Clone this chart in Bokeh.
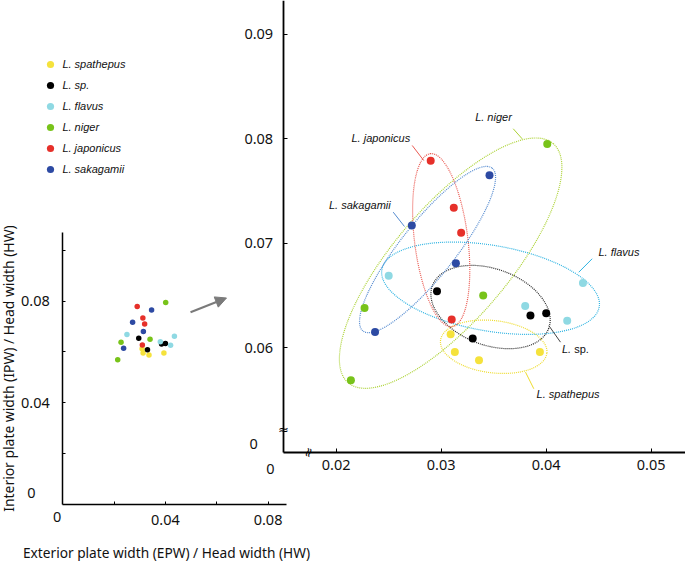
from bokeh.plotting import figure
from bokeh.models import (Range1d, LinearAxis, FixedTicker, Legend, LegendItem,
                          Arrow, NormalHead)
from bokeh.core.properties import value
from bokeh.embed import file_html
from bokeh.resources import INLINE

# ---------------- data ----------------
species = ["L. spathepus", "L. sp.", "L. flavus", "L. niger", "L. japonicus", "L. sakagamii"]

spathepus_epw = [0.0309, 0.0313, 0.0336, 0.0394]
spathepus_ipw = [0.0613, 0.0596, 0.0588, 0.0596]
sp_epw = [0.0296, 0.0385, 0.0400, 0.0330]
sp_ipw = [0.0654, 0.0631, 0.0633, 0.0609]
flavus_epw = [0.0250, 0.0435, 0.0380, 0.0420]
flavus_ipw = [0.0669, 0.0662, 0.0640, 0.0626]
niger_epw = [0.0401, 0.0340, 0.0227, 0.0214]
niger_ipw = [0.0795, 0.0650, 0.0638, 0.0569]
japonicus_epw = [0.0290, 0.0312, 0.0319, 0.0310]
japonicus_ipw = [0.0779, 0.0734, 0.0710, 0.0627]
sakagamii_epw = [0.0346, 0.0272, 0.0314, 0.0237]
sakagamii_ipw = [0.0765, 0.0717, 0.0681, 0.0615]

epw = [spathepus_epw, sp_epw, flavus_epw, niger_epw, japonicus_epw, sakagamii_epw]
ipw = [spathepus_ipw, sp_ipw, flavus_ipw, niger_ipw, japonicus_ipw, sakagamii_ipw]

# 95% ellipses (centre, axes, angle) per species
ell_x = [0.0350, 0.0347, 0.0347, 0.0309, 0.0300, 0.0287]
ell_y = [0.0601, 0.0639, 0.0657, 0.0681, 0.0703, 0.0694]
ell_w = [0.0102, 0.0118, 0.0210, 0.0300, 0.0166, 0.0198]
ell_h = [0.0050, 0.0073, 0.0082, 0.0109, 0.0051, 0.0052]
ell_angle = [-0.12, -0.35, -0.17, 0.862, 1.696, 0.90]

main_x_ticks = [0.02, 0.03, 0.04, 0.05]
main_y_ticks = [0.06, 0.07, 0.08, 0.09]
inset_x_ticks = [0.02, 0.04, 0.06, 0.08]
inset_y_ticks = [0.02, 0.04, 0.06, 0.08, 0.10]
inset_labelled = [0.04, 0.08]

# ---------------- styles ----------------
point_colors = ["#f5e23c", "#000000", "#8fd9e3", "#78c31a", "#e6302a", "#2d4aa3"]
ell_colors = ["#eedc2e", "#2a2a2a", "#30b4e2", "#acd235", "#ea5a52", "#558bd0"]
leader_colors = ["#eedc2e", "#444444", "#30b4e2", "#acd235", "#ea5a52", "#558bd0"]

# label annotations in main-plot data space
lab_x = [0.04208, 0.04279, 0.04693, 0.03498, 0.02425, 0.02225]
lab_y = [0.05560, 0.05990, 0.06915, 0.08212, 0.08010, 0.07371]
lead_x0 = [0.03882, 0.04136, 0.04438, 0.03686, 0.02724, 0.02543]
lead_y0 = [0.05608, 0.06054, 0.06852, 0.08096, 0.07936, 0.07298]
lead_x1 = [0.03803, 0.04025, 0.04310, 0.03772, 0.02834, 0.02650]
lead_y1 = [0.05767, 0.06213, 0.06723, 0.07999, 0.07792, 0.07161]

TICK_FONT = "Noto Sans"
LAB_FONT = "Liberation Sans"

p = figure(width=685, height=561, output_backend="svg", toolbar_location=None,
           x_range=Range1d(-0.011971, 0.053267), y_range=Range1d(0.039550, 0.093234),
           x_axis_location=None, y_axis_location=None, min_border=0,
           outline_line_color=None, background_fill_color="white")
p.grid.visible = False
p.extra_x_ranges = {"ix": Range1d(-0.024279, 0.242673)}
p.extra_y_ranges = {"iy": Range1d(-0.022423, 0.198269)}


def style_axis(ax, width, size, standoff):
    ax.axis_line_width = width
    ax.axis_line_color = "black"
    ax.major_tick_in = 4
    ax.major_tick_out = 0
    ax.major_tick_line_width = 1
    ax.minor_tick_in = 0
    ax.minor_tick_out = 0
    ax.major_label_text_font = TICK_FONT
    ax.major_label_text_font_size = size
    ax.major_label_text_color = "#111111"
    ax.major_label_standoff = standoff


# main axes
may = LinearAxis(fixed_location=0.01495, bounds=(0.05, 0.0935),
                 ticker=FixedTicker(ticks=main_y_ticks))
style_axis(may, 1.8, "14.5px", 10)
p.add_layout(may, "left")
max_ = LinearAxis(fixed_location=0.05, bounds=(0.01495, 0.0533),
                  ticker=FixedTicker(ticks=main_x_ticks))
style_axis(max_, 1.8, "14.5px", 8)
p.add_layout(max_, "below")

# inset axes
overr_y = {t: "" for t in inset_y_ticks if t not in inset_labelled}
overr_x = {t: "" for t in inset_x_ticks if t not in inset_labelled}
iay = LinearAxis(fixed_location=0, bounds=(0, 0.1071), x_range_name="ix", y_range_name="iy",
                 ticker=FixedTicker(ticks=inset_y_ticks), major_label_overrides=overr_y)
style_axis(iay, 1.5, "14.5px", 13)
iay.major_tick_in = 3
p.add_layout(iay, "left")
iax = LinearAxis(fixed_location=0, bounds=(0, 0.0872), x_range_name="ix", y_range_name="iy",
                 ticker=FixedTicker(ticks=inset_x_ticks), major_label_overrides=overr_x)
style_axis(iax, 1.5, "14.5px", 10)
iax.major_tick_in = 3
p.add_layout(iax, "below")

# ellipses
p.ellipse(x=ell_x, y=ell_y, width=ell_w, height=ell_h, angle=ell_angle,
          fill_color=None, line_color=ell_colors, line_width=1.2, line_dash="1 1")

# leader lines
p.segment(x0=lead_x0, y0=lead_y0, x1=lead_x1, y1=lead_y1, line_color=leader_colors, line_width=1)

# species labels ("L. sp." has an upright "sp.")
italic_idx = [i for i, s in enumerate(species) if s != "L. sp."]
p.text(x=[lab_x[i] for i in italic_idx], y=[lab_y[i] for i in italic_idx],
       text=[species[i] for i in italic_idx], text_font=value(LAB_FONT),
       text_font_style="italic", text_font_size="11px", text_align="center",
       text_baseline="middle", text_color="#111111")
sp_i = species.index("L. sp.")
p.text(x=[lab_x[sp_i]], y=[lab_y[sp_i]], text=["L. "], text_font=value(LAB_FONT),
       text_font_style="italic", text_font_size="11px", text_align="right",
       text_baseline="middle", text_color="#111111", x_offset=-1.3)
p.text(x=[lab_x[sp_i]], y=[lab_y[sp_i]], text=["sp."], text_font=value(LAB_FONT),
       text_font_size="11px", text_align="left",
       text_baseline="middle", text_color="#111111", x_offset=-1.3)

# points
renderers = []
for s, xs, ys, c in zip(species, epw, ipw, point_colors):
    r = p.scatter(x=xs, y=ys, size=8, fill_color=c, line_color=None)
    renderers.append(r)
    p.scatter(x=xs, y=ys, size=5.5, fill_color=c, line_color=None,
              x_range_name="ix", y_range_name="iy")

# axis-break marks and zero labels (main)
p.text(x=[0.01498], y=[0.05218], text=["≈"], text_font=value("DejaVu Sans"),
       text_font_size="13px", text_align="center", text_baseline="middle",
       text_color="black", background_fill_color="white")
p.text(x=[0.01733], y=[0.04998], text=["≈"], text_font=value("DejaVu Sans"),
       text_font_size="13px", text_align="center", text_baseline="middle",
       text_color="black", angle=1.25, background_fill_color="white")
p.text(x=[0.01215, 0.01374], y=[0.05075, 0.04838], text=["0", "0"],
       text_font=value(TICK_FONT), text_font_size="14.5px", text_align="center",
       text_baseline="middle", text_color="#111111")

# zero labels (inset)
p.text(x=[-0.01220, -0.00218], y=[0.00445, -0.00500], text=["0", "0"],
       x_range_name="ix", y_range_name="iy",
       text_font=value(TICK_FONT), text_font_size="14.5px", text_align="center",
       text_baseline="middle", text_color="#111111")

# axis titles (inset)
p.text(x=[0.04041], y=[-0.01876], text=["Exterior plate width (EPW) / Head width (HW)"],
       x_range_name="ix", y_range_name="iy", text_font=value(TICK_FONT),
       text_font_size="13.7px", text_align="center", text_baseline="middle", text_color="#111111")
p.text(x=[-0.02116], y=[0.0535], text=["Interior plate width (IPW) / Head width (HW)"],
       x_range_name="ix", y_range_name="iy", text_font=value(TICK_FONT), angle=1.5708,
       text_font_size="13.9px", text_align="center", text_baseline="middle", text_color="#111111")

# arrow from inset to main
p.add_layout(Arrow(end=NormalHead(size=11, fill_color="#7a7a7a", line_color="#7a7a7a"),
                   x_start=0.04977, y_start=0.07565, x_end=0.06379, y_end=0.08124,
                   x_range_name="ix", y_range_name="iy",
                   line_color="#7a7a7a", line_width=2))

legend = Legend(items=[LegendItem(label=s, renderers=[r]) for s, r in zip(species, renderers)],
                location=(41.4, 383), glyph_width=18, glyph_height=18, label_height=18,
                spacing=3, padding=5, margin=0, label_standoff=3,
                label_text_font=LAB_FONT, label_text_font_style="italic",
                label_text_font_size="11px", label_text_color="#111111",
                border_line_color=None, background_fill_alpha=0)
p.add_layout(legend)

open("out.html", "w").write(file_html(p, INLINE))
